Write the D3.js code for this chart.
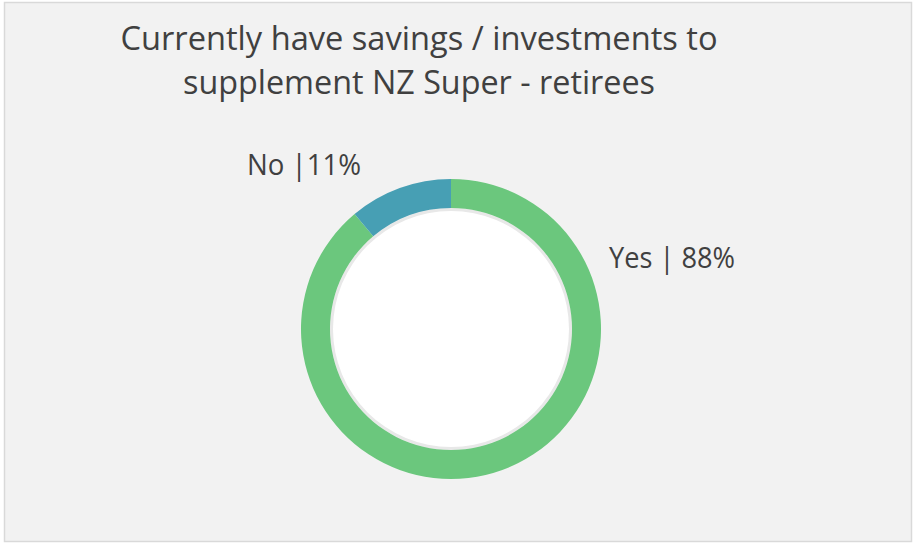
<!DOCTYPE html>
<html>
<head>
<meta charset="utf-8">
<script src="https://cdn.jsdelivr.net/npm/d3@7"></script>
<style>
  body { margin: 0; background: #fff; }
  svg text { font-family: "Open Sans", "Noto Sans", sans-serif; fill: #404040; }
</style>
</head>
<body>
<svg id="chart"></svg>
<script>
// chart data
const categories = ["Yes", "No"]
const values = [88, 11]
const labels = ["Yes | 88%", "No |11%"]
const colors = ["#6bc77d", "#479fb4"]
const titleLines = ["Currently have savings / investments to", "supplement NZ Super - retirees"]

const width = 916, height = 548
const cx = 451, cy = 329
const outerR = 150, innerR = 121

const svg = d3.select("#chart")
    .attr("width", width)
    .attr("height", height)

// frame
svg.append("rect")
  .attr("x", 4.5).attr("y", 2.5)
  .attr("width", 907).attr("height", 539)
  .attr("fill", "#f2f2f2")
  .attr("stroke", "#d9d9d9")
  .attr("stroke-width", 1.5)

// title
svg.append("g").selectAll("text")
  .data(titleLines)
  .enter()
  .append("text")
    .attr("x", 419)
    .attr("y", (d, i) => 50 + i * 44)
    .attr("text-anchor", "middle")
    .attr("font-size", 33)
    .attr("textLength", (d, i) => i === 0 ? 597 : 472)
    .attr("lengthAdjust", "spacingAndGlyphs")
    .text(d => d)

// clockwise from 12 o'clock: Yes first, No ends back at the top
const pie = d3.pie().sort(null).startAngle(0).endAngle(2 * Math.PI)
const arc = d3.arc().innerRadius(innerR).outerRadius(outerR)

const g = svg.append("g").attr("transform", "translate(" + cx + "," + cy + ")")

// light grey gap and white centre
g.append("circle").attr("r", innerR).attr("fill", "#e8e8e8")
g.append("circle").attr("r", innerR - 3).attr("fill", "#ffffff")

g.selectAll("path")
  .data(pie(values))
  .enter()
  .append("path")
    .attr("d", arc)
    .attr("fill", (d, i) => colors[i])

// data labels
const labelPos = [[609, 268], [247, 175]]
svg.append("g").selectAll("text")
  .data(labels)
  .enter()
  .append("text")
    .attr("x", (d, i) => labelPos[i][0])
    .attr("y", (d, i) => labelPos[i][1])
    .attr("font-size", 28.5)
    .attr("textLength", (d, i) => i === 0 ? 126 : 114)
    .attr("lengthAdjust", "spacingAndGlyphs")
    .text(d => d)
</script>
</body>
</html>
